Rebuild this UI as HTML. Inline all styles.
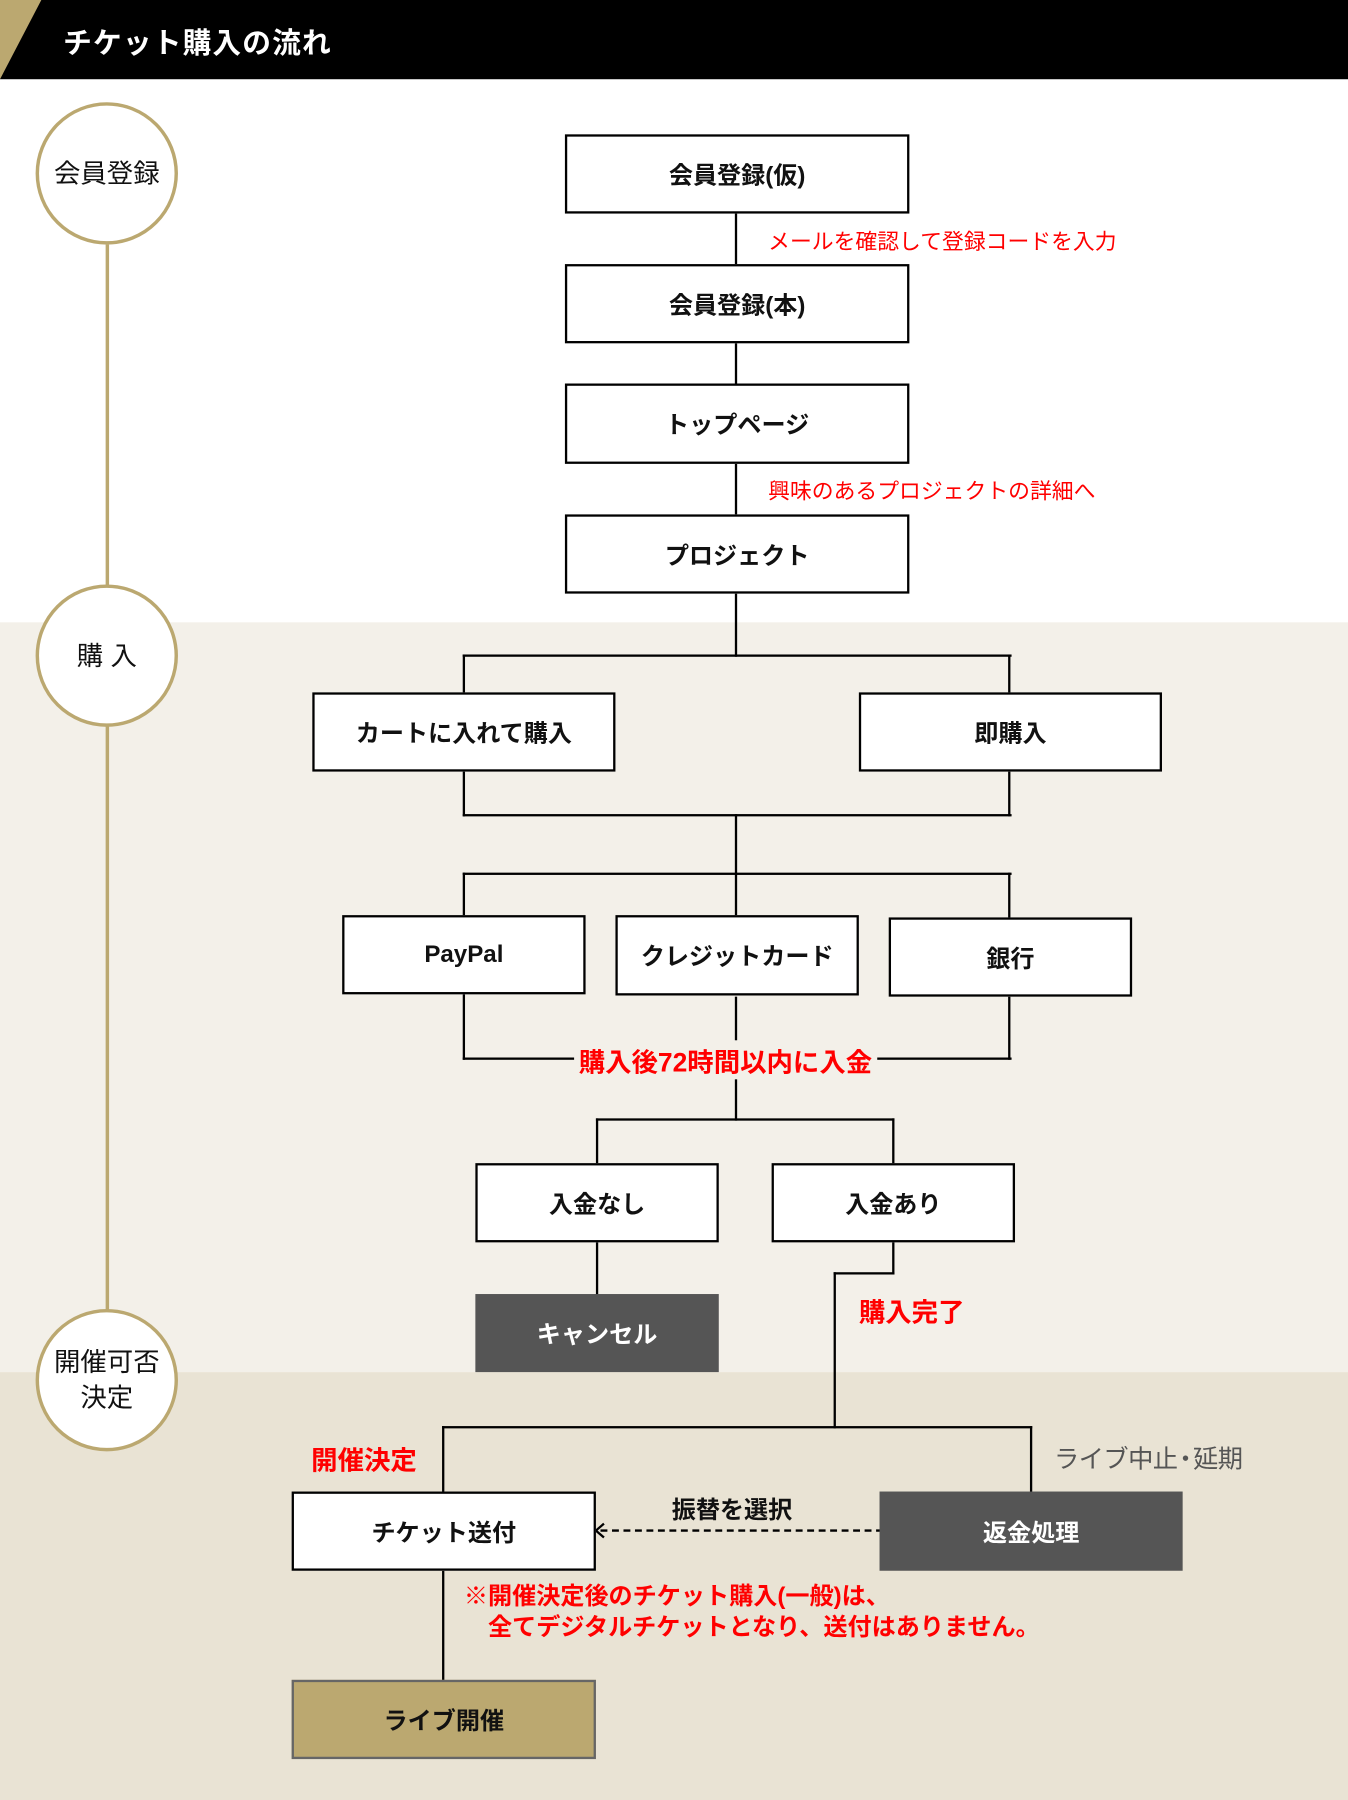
<!DOCTYPE html>
<html><head><meta charset="utf-8"><style>
html,body{margin:0;padding:0;width:1348px;height:1800px;overflow:hidden;background:#fff}
#w{position:absolute;left:0;top:0;width:1174px;height:1568px;transform:scale(1.14821);transform-origin:0 0;font-family:"Liberation Sans","Noto Sans CJK JP",sans-serif;font-weight:bold}
.a{position:absolute}
.b{position:absolute;box-sizing:border-box;border:2px solid #000;background:#fff;display:flex;align-items:center;justify-content:center;font-size:21px;color:#111}
.h{position:absolute;background:#000;height:2px}
.v{position:absolute;background:#000;width:2px}
.c{position:absolute;width:124px;height:124px;box-sizing:border-box;border:3px solid #bba870;border-radius:50%;background:#fff;display:flex;align-items:center;justify-content:center;text-align:center;font-size:23px;font-weight:normal;line-height:31px;color:#111}
.r{position:absolute;color:#f00;font-size:19px;white-space:nowrap;font-weight:normal}
.R{position:absolute;color:#f00;font-size:23px;white-space:nowrap}
</style></head><body><div id="w">
<div class="a" style="left:0;top:542px;width:1174px;height:653px;background:#f3f0e9"></div>
<div class="a" style="left:0;top:1195px;width:1174px;height:373px;background:#e9e3d4"></div>
<div class="a" style="left:0;top:0;width:1174px;height:69px;background:#000"></div>
<svg class="a" style="left:0;top:0" width="40" height="69"><polygon points="0,0 36,0 0,69" fill="#bba870"/></svg>
<div class="a" style="left:55px;top:18px;color:#fff;font-size:25px;letter-spacing:1px">チケット購入の流れ</div>

<div class="a" style="left:92px;top:213px;width:3px;height:930px;background:#bba870"></div>
<div class="c" style="left:31px;top:89px">会員登録</div>
<div class="c" style="left:31px;top:509px">購 入</div>
<div class="c" style="left:31px;top:1140px">開催可否<br>決定</div>

<div class="v" style="left:640px;top:186px;height:44px"></div>
<div class="v" style="left:640px;top:299px;height:35px"></div>
<div class="v" style="left:640px;top:404px;height:44px"></div>
<div class="v" style="left:640px;top:517px;height:55px"></div>
<div class="h" style="left:403px;top:570px;width:478px"></div>
<div class="v" style="left:403px;top:570px;height:34px"></div>
<div class="v" style="left:878px;top:570px;height:34px"></div>
<div class="v" style="left:403px;top:672px;height:39px"></div>
<div class="v" style="left:878px;top:672px;height:39px"></div>
<div class="h" style="left:403px;top:709px;width:478px"></div>
<div class="v" style="left:640px;top:709px;height:53px"></div>
<div class="h" style="left:403px;top:760px;width:478px"></div>
<div class="v" style="left:403px;top:760px;height:38px"></div>
<div class="v" style="left:640px;top:760px;height:38px"></div>
<div class="v" style="left:878px;top:760px;height:40px"></div>
<div class="v" style="left:403px;top:866px;height:57px"></div>
<div class="v" style="left:878px;top:868px;height:55px"></div>
<div class="h" style="left:403px;top:921px;width:478px"></div>
<div class="v" style="left:640px;top:868px;height:108px"></div>
<div class="h" style="left:519px;top:974px;width:260px"></div>
<div class="v" style="left:519px;top:974px;height:40px"></div>
<div class="v" style="left:777px;top:974px;height:40px"></div>
<div class="v" style="left:519px;top:1082px;height:46px"></div>
<div class="v" style="left:777px;top:1082px;height:28px"></div>
<div class="h" style="left:726px;top:1108px;width:53px"></div>
<div class="v" style="left:726px;top:1108px;height:136px"></div>
<div class="h" style="left:385px;top:1242px;width:514px"></div>
<div class="v" style="left:385px;top:1242px;height:58px"></div>
<div class="v" style="left:897px;top:1242px;height:58px"></div>
<div class="v" style="left:385px;top:1368px;height:96px"></div>
<svg class="a" style="left:515px;top:1322px" width="255" height="22"><line x1="8" y1="11" x2="252" y2="11" stroke="#000" stroke-width="2" stroke-dasharray="6,4"/><polyline points="11,5 4,11 11,17" fill="none" stroke="#000" stroke-width="2"/></svg>

<div class="b" style="left:492px;top:117px;width:300px;height:69px">会員登録(仮)</div>
<div class="b" style="left:492px;top:230px;width:300px;height:69px">会員登録(本)</div>
<div class="b" style="left:492px;top:334px;width:300px;height:70px">トップページ</div>
<div class="b" style="left:492px;top:448px;width:300px;height:69px">プロジェクト</div>
<div class="b" style="left:272px;top:603px;width:264px;height:69px">カートに入れて購入</div>
<div class="b" style="left:748px;top:603px;width:264px;height:69px">即購入</div>
<div class="b" style="left:298px;top:797px;width:212px;height:69px">PayPal</div>
<div class="b" style="left:536px;top:797px;width:212px;height:70px">クレジットカード</div>
<div class="b" style="left:774px;top:799px;width:212px;height:69px">銀行</div>
<div class="b" style="left:414px;top:1013px;width:212px;height:69px">入金なし</div>
<div class="b" style="left:672px;top:1013px;width:212px;height:69px">入金あり</div>
<div class="b" style="left:414px;top:1127px;width:212px;height:68px;background:#555;border:none;color:#fff">キャンセル</div>
<div class="b" style="left:254px;top:1299px;width:265px;height:69px">チケット送付</div>
<div class="b" style="left:766px;top:1299px;width:264px;height:69px;background:#555;border:none;color:#fff">返金処理</div>
<div class="b" style="left:254px;top:1463px;width:265px;height:69px;background:#bba870;border-color:#666">ライブ開催</div>

<div class="r" style="left:669px;top:196px">メールを確認して登録コードを入力</div>
<div class="r" style="left:669px;top:413px">興味のあるプロジェクトの詳細へ</div>
<div class="R" style="left:500px;top:906px;background:#f3f0e9;padding:0 4px">購入後72時間以内に入金</div>
<div class="R" style="left:748px;top:1124px">購入完了</div>
<div class="R" style="left:271px;top:1253px">開催決定</div>
<div class="a" style="left:918px;top:1253px;font-size:22px;color:#555;font-weight:normal;letter-spacing:-0.5px">ライブ中止<span style="margin:0 -4px">・</span>延期</div>
<div class="a" style="left:585px;top:1299px;font-size:21px;color:#111">振替を選択</div>
<div class="R" style="left:404px;top:1377px;font-size:21px;line-height:27px">※開催決定後のチケット購入(一般)は、<br>　全てデジタルチケットとなり、送付はありません。</div>
</div></body></html>
